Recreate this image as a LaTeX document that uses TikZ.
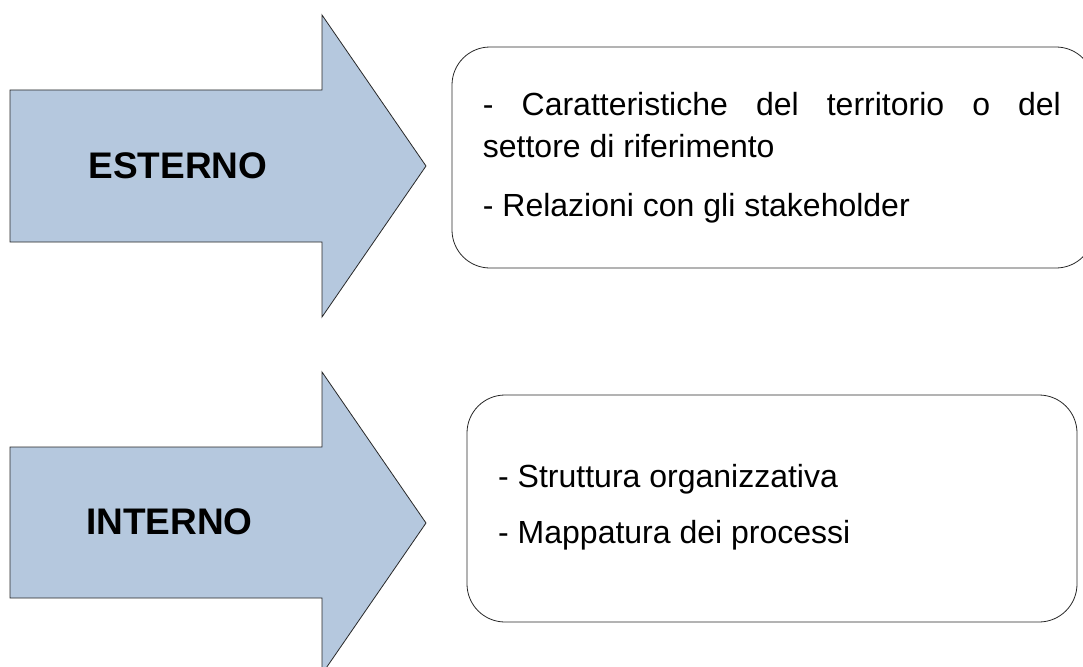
\documentclass[tikz,border=0pt]{standalone}
\usepackage{fontspec}
\setmainfont{Liberation Sans}
\definecolor{arrowfill}{RGB}{181,200,222}
\definecolor{edge}{RGB}{40,40,40}
\begin{document}
\begin{tikzpicture}[x=1pt,y=-1pt,
  bigarrow/.style={draw=edge,line width=0.8pt,fill=arrowfill,line join=miter},
  roundbox/.style={draw=edge,line width=0.8pt,rounded corners=38pt,inner sep=0pt},
  label/.style={font=\fontsize{37}{41}\selectfont\bfseries,inner sep=0pt,anchor=center},
  item/.style={font=\fontsize{32}{38}\selectfont,inner sep=0pt,anchor=base west}]
\useasboundingbox (0,0) rectangle (1083,666);
\fill[white] (0,0) rectangle (1083,666);
% arrows
\draw[bigarrow] (10,90) -- (322,90) -- (322,15) -- (426,166) -- (322,317) -- (322,242) -- (10,242) -- cycle;
\draw[bigarrow] (10,447) -- (322,447) -- (322,372) -- (426,523) -- (322,674) -- (322,598) -- (10,598) -- cycle;
\node[label] (est) at (178,166) {ESTERNO};
\node[label] (int) at (169.5,522) {INTERNO};
% boxes
\node[roundbox,minimum width=642pt,minimum height=221pt] (extbox) at (773,157.5) {};
\node[roundbox,minimum width=610pt,minimum height=227pt] (intbox) at (772,508.5) {};
% texts
\node[item] (e1) at (482.7,115) {\makebox[578pt][s]{- Caratteristiche del territorio o del}};
\node[item] (e2) at (482.7,157) {settore di riferimento};
\node[item] (e3) at (482.7,216) {- Relazioni con gli stakeholder};
\node[item] (i1) at (498,487) {- Struttura organizzativa};
\node[item] (i2) at (498,543) {- Mappatura dei processi};
\end{tikzpicture}
\end{document}
